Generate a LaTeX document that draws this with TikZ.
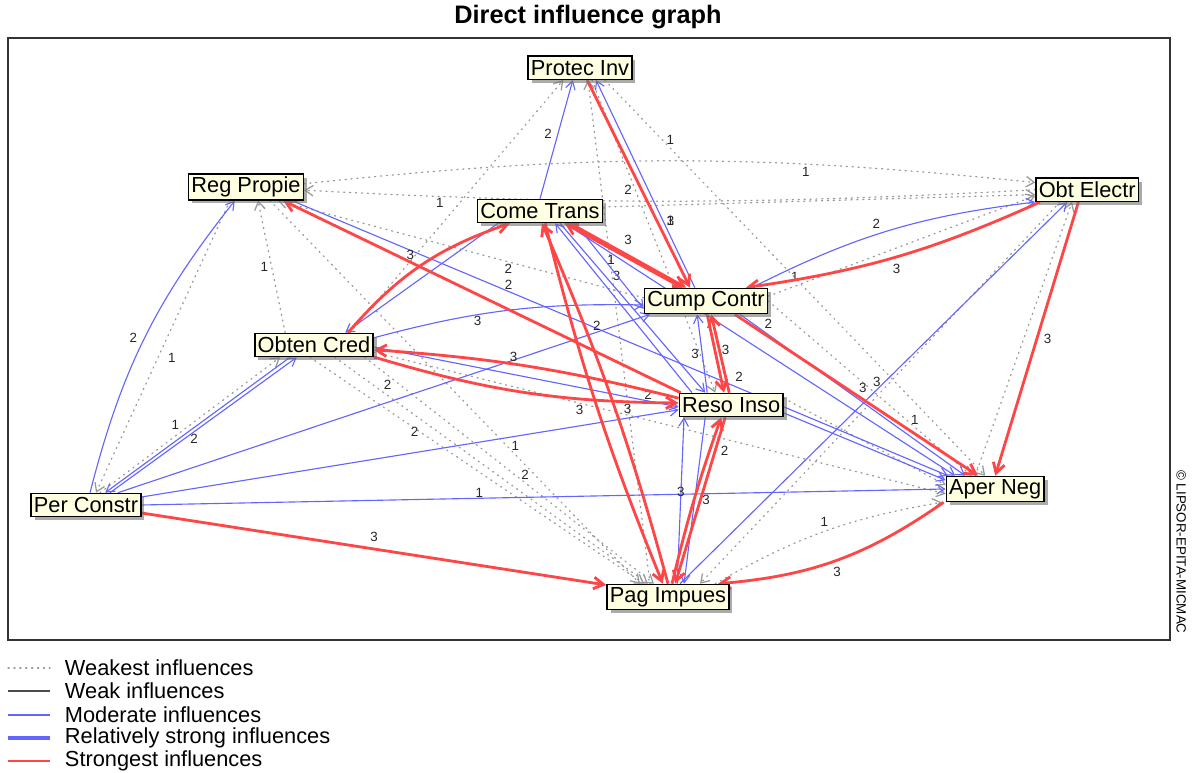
\documentclass[tikz,border=0pt]{standalone}
\usepackage{fontspec}
\setmainfont{Liberation Sans}
\usetikzlibrary{arrows.meta}
\usetikzlibrary{shadows}
\usetikzlibrary{backgrounds}
\definecolor{cream}{RGB}{255,255,225}
\definecolor{modblue}{RGB}{100,100,255}
\definecolor{strongred}{RGB}{255,70,70}

\begin{document}
\begin{tikzpicture}[
  box/.style={draw=black, line width=1pt, fill=cream, inner xsep=2pt, inner ysep=2pt,
    minimum height=0.58cm, font=\fontsize{15.5}{17}\selectfont,
    drop shadow={shadow xshift=2.5pt, shadow yshift=-2.5pt, fill=black!55, opacity=.6}},
  lbl/.style={font=\fontsize{9.5}{10}\selectfont, inner sep=1pt, text=black!85},
  weakest/.style={draw=black!40, line width=.9pt, dash pattern=on .8pt off 3.4pt, line cap=round,
    -{Straight Barb[length=2mm, width=2.6mm]}},
  weak/.style={draw=black!70, line width=.8pt},
  moderate/.style={draw=modblue, line width=.8pt, -{Straight Barb[length=2mm, width=2.4mm]}},
  relstrong/.style={draw=modblue, line width=2.2pt},
  strongest/.style={draw=strongred, line width=2pt, -{Straight Barb[length=2.5mm, width=2.9mm]}}
]
\useasboundingbox (0,0) rectangle (29.8,19.325);

% Title, frame, copyright
\node[font=\bfseries\fontsize{18}{20}\selectfont] (title) at (14.7,18.9) {Direct influence graph};
\draw[line width=1.3pt, black!80] (0.2,3.325) rectangle (29.25,18.375);
\node[rotate=-90, font=\fontsize{9.5}{11}\selectfont] (copy) at (29.53,5.525) {© LIPSOR-EPITA-MICMAC};

% Variables
\node[box] (pi) at (14.5,17.63) {Protec Inv};
\node[box] (rp) at (6.15,14.65) {Reg Propie};
\node[box] (ct) at (13.5,14.05) {Come Trans};
\node[box] (oe) at (27.18,14.58) {Obt Electr};
\node[box] (cc) at (17.65,11.8) {Cump Contr};
\node[box] (oc) at (7.85,10.7) {Obten Cred};
\node[box] (ri) at (18.28,9.2) {Reso Inso};
\node[box] (pc) at (2.15,6.7) {Per Constr};
\node[box] (an) at (24.88,7.1) {Aper Neg};
\node[box] (pg) at (16.7,4.4) {Pag Impues};

\begin{scope}[on background layer]
% Weakest influences
\draw[weakest] ([yshift=.08cm]rp.east) to[bend left=6] node[lbl, pos=.7, below=1pt]{1} ([yshift=.18cm]oe.west);
\draw[weakest] (oe.west) to[bend left=3] node[lbl, pos=.83, below]{1} ([yshift=-.08cm]rp.east);
\draw[weakest] ([yshift=.1cm]ct.east) -- ([yshift=-.12cm]oe.west);
\draw[weakest] ([xshift=.62cm]pi.south) -- node[lbl, pos=.15, right=2pt]{1} ([xshift=-.25cm]an.north);
\draw[weakest] ([xshift=-.45cm]pg.north) -- ([xshift=.2cm]pi.south);
\draw[weakest] ([xshift=.3cm]pi.south) -- node[lbl, pos=.35, left=1pt]{2} ([xshift=-.4cm]ri.north);
\draw[weakest] ([xshift=.9cm]oc.north) -- ([xshift=-.42cm]pi.south);
\draw[weakest] ([xshift=-.72cm]oc.north) -- node[lbl, pos=.5, left=1pt]{1} ([xshift=.3cm]rp.south);
\draw[weakest] ([xshift=-.4cm]rp.south) -- node[lbl, pos=.54, right=6pt]{1} ([xshift=.25cm]pc.north);
\draw[weakest] ([xshift=.35cm]pc.north) -- node[lbl, pos=.45, above left]{1} ([xshift=-.85cm]oc.south);
\draw[weakest] ([xshift=.52cm]oc.south) -- node[lbl, pos=.15, above right]{2} ([xshift=-.5cm]pg.north);
\draw[weakest] ([xshift=-.1cm]oc.south) -- node[lbl, pos=.33, left]{2} ([xshift=-.6cm]pg.north);
\draw[weakest] ([xshift=1.27cm]oc.south) -- node[lbl, pos=.52, right=3pt]{2} ([xshift=-.35cm]pg.north);
\draw[weakest] ([xshift=.6cm]rp.south) -- node[lbl, pos=.64, right=2pt]{1} ([xshift=-.7cm]pg.north);
\draw[weakest] ([yshift=-.18cm]oc.east) -- node[lbl, pos=.36, below]{3} ([yshift=-.12cm]an.west);
\draw[weakest] ([xshift=1.18cm]pg.north) to[bend left=10] node[lbl, pos=.5, above=2pt]{1} ([xshift=-.1cm]an.south west);
\draw[weakest] ([xshift=-.68cm]oe.south) -- ([xshift=.8cm]pg.north);
\draw[weakest] ([yshift=.12cm]cc.east) -- node[lbl, pos=.1, above=2pt]{1} ([yshift=-.15cm]oe.west);
\draw[weakest] (cc.east) -- node[lbl, pos=.68, right=2pt]{1} ([xshift=-.6cm]an.north);
\draw[weakest] ([yshift=.08cm]cc.west) -- node[lbl, pos=.37, below]{2} ([xshift=.8cm]rp.south);
\draw[weakest] ([xshift=-.5cm]an.north) -- ([xshift=-.38cm]oe.south);
\draw[weakest] ([yshift=.17cm]ri.east) -- ([yshift=.1cm]an.west);

% Moderate influences
\draw[moderate] (ct.north) -- node[lbl, pos=.55, left=3pt]{2} ([xshift=-.18cm]pi.south);
\draw[moderate] ([xshift=.1cm]pc.north) to[bend left=12] node[lbl, pos=.5, left=4pt]{2} ([xshift=-.28cm]rp.south);
\draw[moderate] ([xshift=1.15cm]rp.south) -- node[lbl, pos=.33, above]{2} ([xshift=-1.18cm]an.north);
\draw[moderate] ([xshift=-1.05cm]ct.south) -- ([xshift=.78cm]oc.north);
\draw[moderate] ([yshift=.18cm]oc.east) to[bend left=8] node[lbl, pos=.38, below]{3} ([yshift=-.1cm]cc.west);
\draw[moderate] ([xshift=.8cm]pc.north) -- node[lbl, pos=.9, above]{2} ([xshift=-1.4cm]cc.south);
\draw[moderate] ([yshift=.2cm]pc.east) -- ([yshift=-.12cm]ri.west);
\draw[moderate] (pc.east) -- node[lbl, pos=.42, above=-1pt]{1} (an.west);
\draw[moderate] ([xshift=-.6cm]oc.south) -- node[lbl, pos=.55, below right]{2} ([xshift=.48cm]pc.north);
\draw[moderate] ([xshift=.6cm]pc.north) -- ([xshift=-.43cm]oc.south);
\draw[moderate] ([xshift=-.98cm]ri.north) -- ([xshift=.38cm]ct.south);
\draw[moderate] ([xshift=.5cm]ct.south) -- node[lbl, pos=.35, above right]{3} ([xshift=-.65cm]ri.north);
\draw[moderate] ([xshift=.62cm]ct.south) -- ([xshift=-1cm]an.north);
\draw[moderate] ([xshift=.88cm]ct.south) -- ([yshift=-.2cm]cc.west);
\draw[moderate] ([xshift=-.28cm]cc.north) -- node[lbl, pos=.32, right=1pt]{1} ([xshift=.4cm]pi.south);
\draw[moderate] ([xshift=1.15cm]cc.north) to[bend left=10] node[lbl, pos=.45, above=3pt]{2} ([xshift=-1.3cm]oe.south);
\draw[moderate] ([xshift=.3cm]pg.north) -- node[lbl, pos=.53, left=2pt]{3} ([xshift=-.5cm]oe.south);
\draw[moderate] ([yshift=-.2cm]ri.east) -- ([yshift=.22cm]an.west);
\draw[moderate] ([xshift=.85cm]cc.south) -- node[lbl, pos=.1, above right]{2} ([xshift=-.75cm]an.north);
\draw[moderate] ([xshift=.23cm]pg.north) -- node[lbl, pos=.55]{3} ([xshift=-1.18cm]ri.south);
\draw[moderate] ([xshift=-.65cm]ri.south) -- ([xshift=.4cm]pg.north);
\draw[moderate] ([xshift=-.6cm]ri.north) -- node[lbl, pos=.5, left=1pt]{3} ([xshift=-.22cm]cc.south);
\draw[moderate] ([yshift=-.05cm]oc.east) -- node[lbl, pos=.9, above]{2} ([yshift=-.05cm]ri.west);

% Strongest influences
\draw[strongest] ([xshift=.05cm]ri.north west) -- node[lbl, pos=.68, above]{3} ([xshift=.93cm]rp.south);
\draw[strongest] ([xshift=.85cm]oc.north) to[bend left=15] ([xshift=-.75cm]ct.south);
\draw[strongest] ([xshift=.75cm]ct.south) -- node[lbl, pos=.5, above=6pt]{3} ([xshift=-.5cm]cc.north);
\draw[strongest] ([xshift=-.6cm]cc.north) -- node[lbl, pos=.55, below left]{1} ([xshift=.62cm]ct.south);
\draw[strongest] ([xshift=.18cm]pi.south) -- node[lbl, pos=.68, right=5pt]{3} ([xshift=-.4cm]cc.north);
\draw[strongest] ([yshift=.17cm]ri.west) to[bend right=5] node[lbl, pos=.55, above]{3} ([yshift=-.12cm]oc.east);
\draw[strongest] ([yshift=-.3cm]oc.east) to[bend right=8] node[lbl, pos=.85, below]{3} ([yshift=.05cm]ri.west);
\draw[strongest] ([xshift=.03cm]cc.south) -- node[lbl, pos=.45, right=3pt]{3} ([xshift=-.18cm]ri.north);
\draw[strongest] ([xshift=-.05cm]ri.north) -- node[lbl, pos=.2, right=5pt]{2} ([xshift=.13cm]cc.south);
\draw[strongest] ([xshift=.13cm]ct.south) to[bend right=4] ([xshift=-.13cm]pg.north);
\draw[strongest] (pg.north) to[bend right=4] ([xshift=.05cm]ct.south);
\draw[strongest] ([xshift=.1cm]pg.north) to[bend left=3] node[lbl, pos=.5, right=4pt]{3} ([xshift=-.25cm]ri.south);
\draw[strongest] ([xshift=-.15cm]ri.south) -- node[lbl, pos=.2, right=2pt]{2} ([xshift=.18cm]pg.north);
\draw[strongest] ([xshift=-.05cm]an.south west) to[bend left=15] node[lbl, pos=.5, below=3pt]{3} ([xshift=1.25cm]pg.north);
\draw[strongest] ([yshift=-.2cm]pc.east) -- node[lbl, pos=.5, above=3pt]{3} ([yshift=.3cm]pg.west);
\draw[strongest] ([xshift=-.22cm]oe.south) -- node[lbl, pos=.5, right=3pt]{3} (an.north);
\draw[strongest] ([xshift=-1.18cm]oe.south) to[bend left=8] node[lbl, pos=.5, below=3pt]{3} ([xshift=1cm]cc.north);
\draw[strongest] ([xshift=.72cm]cc.south) -- node[lbl, pos=.5, above right]{3} ([xshift=-.43cm]an.north);
\end{scope}

% Legend
\foreach \y/\sty/\txt [count=\i] in {2.625/weakest/Weakest influences, 2.05/weak/Weak influences,
    1.45/moderate/Moderate influences, .875/relstrong/Relatively strong influences,
    .3/strongest/Strongest influences} {
  \draw[\sty, -] (0.2,\y) -- (1.25,\y);
  \node[anchor=west, font=\fontsize{15.5}{17}\selectfont] (leg\i) at (1.5,\y) {\txt};
}

\end{tikzpicture}
\end{document}
